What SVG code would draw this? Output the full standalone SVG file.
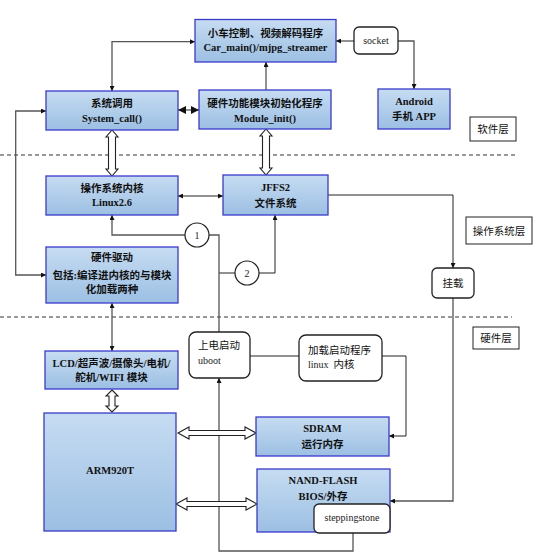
<svg xmlns="http://www.w3.org/2000/svg" width="554" height="560" viewBox="0 0 554 560">
<defs>
<linearGradient id="bg" x1="0" y1="0" x2="0" y2="1">
<stop offset="0" stop-color="#c6dcf2"/>
<stop offset="1" stop-color="#9cbfe3"/>
</linearGradient>
<marker id="ah" viewBox="0 0 10 10" refX="10" refY="5" markerWidth="5" markerHeight="5" markerUnits="userSpaceOnUse" orient="auto-start-reverse">
<path d="M0,0 L10,5 L0,10 Z" fill="#111"/>
</marker>
<marker id="ahb" viewBox="0 0 10 10" refX="10" refY="5" markerWidth="8" markerHeight="8" markerUnits="userSpaceOnUse" orient="auto-start-reverse">
<path d="M0,0 L10,5 L0,10 Z" fill="#111"/>
</marker>
<style>
.box{fill:url(#bg);stroke:#3a3acc;stroke-width:1.3}
.rbox{fill:#fff;stroke:#222;stroke-width:1.3}
.lbox{fill:#fff;stroke:#222;stroke-width:1}
.t{font-family:"Liberation Serif","Noto Sans CJK SC",serif;font-weight:bold;font-size:10.5px;fill:#111;text-anchor:middle}
.s{font-family:"Noto Sans CJK SC","Liberation Sans",sans-serif;font-size:10.5px;fill:#111}
.r{font-family:"Liberation Serif","Noto Sans CJK SC",serif;font-size:10px;fill:#222}
.c{fill:none;stroke:#555;stroke-width:1.3}
.k{fill:none;stroke:#222;stroke-width:1}
.h{fill:#fff;stroke:#222;stroke-width:1.1}
.d{fill:none;stroke:#333;stroke-width:1;stroke-dasharray:4,3}
</style>
</defs>

<g id="dividers">
<line class="d" x1="0" y1="155" x2="516" y2="155"/>
<line class="d" x1="0" y1="317" x2="512" y2="317"/>
</g>

<g id="connectors">
<path class="c" d="M112,91 V41.7 H195" marker-start="url(#ah)" marker-end="url(#ah)"/>
<path class="c" d="M266,90 V62" marker-end="url(#ah)"/>
<path class="c" d="M354,41 H336" marker-end="url(#ah)"/>
<path class="c" d="M398,41 H414 V89" marker-end="url(#ah)"/>
<path class="c" d="M178,110 H199" stroke-width="2" marker-start="url(#ahb)" marker-end="url(#ahb)"/>
<path class="c" d="M46,111 H15.7 V275 H46" marker-start="url(#ah)" marker-end="url(#ah)"/>
<path class="k" d="M178,196 H223" marker-start="url(#ah)" marker-end="url(#ah)"/>
<path class="c" d="M185,235 H112 V215" marker-end="url(#ah)"/>
<path class="c" d="M209,235 H219 V332"/>
<path class="c" d="M219,273 H235"/>
<path class="k" d="M259,273 H275 V215" marker-end="url(#ah)"/>
<path class="c" d="M353,533 V551 H219 V378" marker-end="url(#ah)"/>
<path class="k" d="M250,356 H299"/>
<path class="k" d="M382,356 H406 V436 H389" marker-end="url(#ah)"/>
<path class="k" d="M328,195 H453 V268" marker-end="url(#ah)"/>
<path class="c" d="M453,298 V501 H390" marker-end="url(#ah)"/>
<path class="c" d="M112,303 V351" marker-start="url(#ah)" marker-end="url(#ah)"/>
<path class="h" d="M112,130 L118,137 L115.5,137 L115.5,169 L118,169 L112,176 L106,169 L108.5,169 L108.5,137 L106,137 Z"/>
<path class="h" d="M266,129 L272,136 L269.5,136 L269.5,168 L272,168 L266,175 L260,168 L262.5,168 L262.5,136 L260,136 Z"/>
<path class="h" d="M112,390 L118,396 L115,396 L115,406 L118,406 L112,412 L106,406 L109,406 L109,396 L106,396 Z"/>
<path class="h" d="M178,433 L189,427 L189,430.5 L245,430.5 L245,427 L256,433 L245,439 L245,435.5 L189,435.5 L189,439 Z"/>
<path class="h" d="M176,504 L187,498 L187,501.5 L246,501.5 L246,498 L257,504 L246,510 L246,506.5 L187,506.5 L187,510 Z"/>
</g>

<g id="car_main">
<rect class="box" x="195" y="19.5" width="141" height="42.5"/>
<text class="t" x="265.5" y="37">小车控制、视频解码程序</text>
<text class="t" x="265.5" y="51">Car_main()/mjpg_streamer</text>
</g>

<g id="socket">
<rect class="rbox" x="354" y="27" width="44" height="27" rx="5"/>
<text class="r" x="376" y="43.5" text-anchor="middle">socket</text>
</g>

<g id="android">
<rect class="box" x="378" y="89" width="72" height="40"/>
<text class="t" x="414" y="105">Android</text>
<text class="t" x="414" y="120">手机 APP</text>
</g>

<g id="system_call">
<rect class="box" x="46" y="91" width="132" height="39"/>
<text class="t" x="112" y="107">系统调用</text>
<text class="t" x="112" y="122">System_call()</text>
</g>

<g id="module_init">
<rect class="box" x="199" y="90" width="132" height="39"/>
<text class="t" x="265" y="107">硬件功能模块初始化程序</text>
<text class="t" x="265" y="122">Module_init()</text>
</g>

<g id="label_software">
<rect class="lbox" x="470" y="117" width="46" height="24"/>
<text class="s" x="493" y="133" text-anchor="middle">软件层</text>
</g>

<g id="kernel">
<rect class="box" x="46" y="176" width="132" height="39"/>
<text class="t" x="112" y="192">操作系统内核</text>
<text class="t" x="112" y="206">Linux2.6</text>
</g>

<g id="jffs2">
<rect class="box" x="223" y="175" width="105" height="40"/>
<text class="t" x="275.5" y="191">JFFS2</text>
<text class="t" x="275.5" y="207">文件系统</text>
</g>

<g id="label_os">
<rect class="lbox" x="466" y="217" width="66" height="27"/>
<text class="s" x="499" y="234.5" text-anchor="middle">操作系统层</text>
</g>

<g id="circle1">
<circle cx="197" cy="235" r="12" fill="#fff" stroke="#222" stroke-width="1.2"/>
<text class="r" x="197" y="238.5" text-anchor="middle">1</text>
</g>

<g id="circle2">
<circle cx="247" cy="273" r="12" fill="#fff" stroke="#222" stroke-width="1.2"/>
<text class="r" x="247" y="276.5" text-anchor="middle">2</text>
</g>

<g id="driver">
<rect class="box" x="46" y="247" width="132" height="56"/>
<text class="t" x="112" y="261">硬件驱动</text>
<text class="t" x="112" y="279">包括:编译进内核的与模块</text>
<text class="t" x="112" y="293">化加载两种</text>
</g>

<g id="mount">
<rect class="rbox" x="432" y="268" width="42" height="30" rx="5"/>
<text class="s" x="453" y="287" text-anchor="middle">挂载</text>
</g>

<g id="label_hw">
<rect class="lbox" x="473" y="327" width="46" height="22"/>
<text class="s" x="496" y="342" text-anchor="middle">硬件层</text>
</g>

<g id="lcd">
<rect class="box" x="45" y="351" width="133" height="38"/>
<text class="t" x="111.5" y="367">LCD/超声波/摄像头/电机/</text>
<text class="t" x="111.5" y="381">舵机/WIFI 模块</text>
</g>

<g id="uboot">
<rect class="rbox" x="189" y="332" width="61" height="46" rx="7"/>
<text class="s" x="198" y="349">上电启动</text>
<text class="r" x="198" y="363.5">uboot</text>
</g>

<g id="loader">
<rect class="rbox" x="299" y="335" width="83" height="46" rx="7"/>
<text class="s" x="308" y="354">加载启动程序</text>
<text class="s" x="308" y="368"><tspan class="r">linux</tspan><tspan dx="5">内核</tspan></text>
</g>

<g id="arm">
<rect class="box" x="44" y="413" width="132" height="118"/>
<text class="t" x="110" y="474">ARM920T</text>
</g>

<g id="sdram">
<rect class="box" x="256" y="417" width="133" height="39"/>
<text class="t" x="322.5" y="432">SDRAM</text>
<text class="t" x="322.5" y="448">运行内存</text>
</g>

<g id="nand">
<rect class="box" x="257" y="469" width="133" height="63"/>
<text class="t" x="323" y="484">NAND-FLASH</text>
<text class="t" x="323" y="500">BIOS/外存</text>
</g>

<g id="steppingstone">
<rect class="rbox" x="314" y="504" width="76" height="29" rx="5"/>
<text class="r" x="352" y="520.5" text-anchor="middle">steppingstone</text>
</g>
</svg>
